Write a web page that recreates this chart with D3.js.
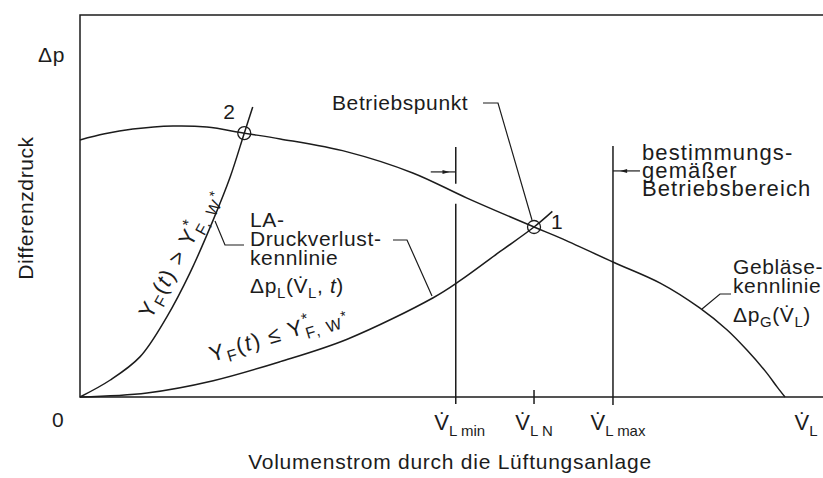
<!DOCTYPE html>
<html>
<head>
<meta charset="utf-8">
<script src="https://cdn.jsdelivr.net/npm/d3@7"></script>
<style>
  html, body { margin: 0; padding: 0; background: #fff; }
  svg { display: block; }
  text { font-family: "Liberation Sans", Arial, sans-serif; fill: #1c1c1c; }
</style>
</head>
<body>
<svg id="chart" width="823" height="478"></svg>
<script>
// Fan characteristic Δp_G(V̇_L) (relative units)
const fanFlow     = [0, 3.5, 7.5, 13.2, 18.0, 23.3, 28.4, 37.9, 47.2, 54.9, 64.4, 68.1, 75.6, 82.3, 87.9, 91.8, 94.6, 97.4, 98.9, 100];
const fanPressure = [75.6, 77.4, 78.8, 79.7, 79.4, 77.6, 75.9, 72.1, 65.9, 58.5, 50.0, 46.8, 39.7, 33.5, 26.2, 19.7, 13.8, 7.1, 2.9, 0];

// System pressure-loss characteristic, Y_F(t) <= Y*_F,W*
const lossFlow     = [0, 9.5, 18.9, 28.4, 37.9, 50.1, 53.9, 59.6, 64.4, 67.0];
const lossPressure = [0, 1.2, 4.8, 10.4, 17.0, 29.2, 34.2, 42.8, 50.0, 54.6];

// System pressure-loss characteristic, Y_F(t) > Y*_F,W*
const fouledFlow     = [0, 4.3, 8.5, 12.3, 15.6, 18.9, 21.3, 23.3, 24.5];
const fouledPressure = [0, 5.0, 11.8, 23.5, 36.5, 52.1, 64.7, 77.6, 85.3];

// Operating points (1 = design point, 2 = fouled filter)
const pointFlow     = [64.4, 23.3];
const pointPressure = [50.0, 77.6];
const pointLabels   = ["1", "2"];

// Flow marks on the abscissa
const flowMarks     = [53.3, 64.4, 75.6, 100];
const flowMarkSubs  = ["L min", "L N", "L max", "L"];
const flowMarkShift = [4, 0, 5, 21];

// Permitted operating range
const rangeMin = 53.3, rangeMax = 75.6, rangeTop = 73.5, rangeArrowAt = 66.2;

const W = 823, H = 478;
const svg = d3.select("#chart");
const ink = "#1c1c1c";
const lw = 1.5;
const FS = 21, SUB = 15;

const x = d3.scaleLinear().domain([0, 100]).range([80, 785]);
const y = d3.scaleLinear().domain([0, 100]).range([397, 57]);

const curve = d3.line()
  .x(d => x(d[0])).y(d => y(d[1]))
  .curve(d3.curveCatmullRom.alpha(0.5));

// Frame: ordinate, top rule and abscissa
const frame = svg.append("g").attr("stroke", ink).attr("stroke-width", lw).attr("fill", "none");
frame.append("path").attr("d", `M${W},15H${x(0)}V${y(0)}H${W}`);

// Characteristic curves
const curves = svg.append("g").attr("stroke", ink).attr("stroke-width", lw).attr("fill", "none");
curves.append("path").attr("d", curve(d3.zip(fanFlow, fanPressure)));
curves.append("path").attr("d", curve(d3.zip(lossFlow, lossPressure)));
curves.append("path").attr("d", curve(d3.zip(fouledFlow, fouledPressure)));

// Operating points
const pts = svg.append("g");
pointFlow.forEach((f, i) => {
  pts.append("circle")
    .attr("cx", x(f)).attr("cy", y(pointPressure[i])).attr("r", 6.5)
    .attr("fill", "none").attr("stroke", ink).attr("stroke-width", 1.3);
});
pts.append("text").attr("x", x(pointFlow[0]) + 17).attr("y", y(pointPressure[0]) + 2)
  .attr("font-size", FS).text(pointLabels[0]);
pts.append("text").attr("x", x(pointFlow[1]) - 21).attr("y", y(pointPressure[1]) - 14)
  .attr("font-size", FS).text(pointLabels[1]);

// Operating range limits
const fanAt = f => {
  const i = d3.bisectLeft(fanFlow, f);
  const t = (f - fanFlow[i - 1]) / (fanFlow[i] - fanFlow[i - 1]);
  return fanPressure[i - 1] + t * (fanPressure[i] - fanPressure[i - 1]);
};
const lim = svg.append("g").attr("stroke", ink).attr("stroke-width", lw).attr("fill", "none");
const gapY = y(fanAt(rangeMin));
lim.append("path").attr("d", `M${x(rangeMin)},${y(rangeTop)}V${gapY - 9}M${x(rangeMin)},${gapY + 11}V${y(0) + 7}`);
lim.append("path").attr("d", `M${x(rangeMax)},${y(rangeTop) - 1}V${y(0) + 8}`);
lim.append("path").attr("d", `M${x(flowMarks[1])},${y(0) - 7}V${y(0) + 7}`);

// small arrows pointing at the limits
function arrow(x0, x1, yy) {
  lim.append("path").attr("d", `M${x0},${yy}H${x1}`).attr("stroke-width", 1.2);
  const dir = Math.sign(x1 - x0);
  const mx = x0 + (x1 - x0) * 0.55;
  svg.append("path")
    .attr("d", `M${mx + dir * 5},${yy}L${mx - dir * 2},${yy - 2}L${mx - dir * 2},${yy + 2}Z`)
    .attr("fill", ink);
}
arrow(x(rangeMin) - 25, x(rangeMin), y(rangeArrowAt));
arrow(x(rangeMax) + 27, x(rangeMax), y(rangeArrowAt) - 1);

// Leader lines for annotations
const lead = svg.append("g").attr("stroke", ink).attr("stroke-width", 1.2).attr("fill", "none");
lead.append("path").attr("d", "M483,103H498L532,220");
lead.append("path").attr("d", "M244,245H225L215,221");
lead.append("path").attr("d", "M393,240H407L432,296");
lead.append("path").attr("d", "M731,294H720L702,309");

// Multi-line rich text: each line is a list of parts with optional
// baseline offset, size, italics and dx; gaps are line advances.
function block(sel, x0, lines, gaps) {
  let cur = 0;
  lines.forEach((parts, li) => {
    parts.forEach((p, pi) => {
      const off = p.off || 0;
      let dy = off - cur;
      if (pi === 0 && li > 0) dy += gaps[li - 1];
      const ts = sel.append("tspan").text(p.t).attr("dy", dy);
      if (pi === 0 && x0 != null) ts.attr("x", x0);
      if (p.dx) ts.attr("dx", p.dx);
      if (p.size) ts.attr("font-size", p.size);
      if (p.it) ts.attr("font-style", "italic");
      cur = off;
    });
  });
  return sel;
}
const rich = (sel, parts) => block(sel, null, [parts], []);

const txt = svg.append("g").attr("font-size", FS).attr("letter-spacing", 0.6);

// Axis titles
txt.append("text").attr("x", 38).attr("y", 62).text("Δp");
txt.append("text").attr("x", 52).attr("y", 427).text("0");
txt.append("text").attr("transform", "translate(33,208) rotate(-90)")
  .attr("text-anchor", "middle").text("Differenzdruck");
txt.append("text").attr("x", 450).attr("y", 469).attr("text-anchor", "middle")
  .attr("letter-spacing", 0.75)
  .text("Volumenstrom durch die Lüftungsanlage");

// Flow marks
flowMarks.forEach((f, i) => {
  rich(txt.append("text").attr("x", x(f) + flowMarkShift[i]).attr("y", 430)
    .attr("text-anchor", "middle").attr("letter-spacing", 0),
    [{ t: "V\u0307", size: 22 }, { t: flowMarkSubs[i], off: 6, size: SUB }]);
});

// Annotations
txt.append("text").attr("x", 332).attr("y", 110).text("Betriebspunkt");

block(txt.append("text").attr("x", 642).attr("y", 160).attr("font-size", 22).attr("letter-spacing", 1.1), 642,
  [[{ t: "bestimmungs-" }], [{ t: "gemäßer" }], [{ t: "Betriebsbereich" }]], [18, 18]);

block(txt.append("text").attr("x", 250).attr("y", 227), 250,
  [[{ t: "LA-" }], [{ t: "Druckverlust-" }], [{ t: "kennlinie" }],
   [{ t: "Δp" }, { t: "L", off: 5, size: SUB }, { t: "(V\u0307" }, { t: "L", off: 5, size: SUB },
    { t: ", " }, { t: "t", it: true }, { t: ")" }]],
  [19, 19, 28]);

block(txt.append("text").attr("x", 733).attr("y", 274), 733,
  [[{ t: "Gebläse-" }], [{ t: "kennlinie" }],
   [{ t: "Δp" }, { t: "G", off: 5, size: SUB }, { t: "(V\u0307" }, { t: "L", off: 5, size: SUB }, { t: ")" }]],
  [19, 29]);

// Labels along the two loss characteristics
function condition(rel) {
  return [{ t: "Y" }, { t: "F", off: 5, size: SUB + 1 }, { t: "(" }, { t: "t", it: true },
          { t: ") " + rel + " Y" }, { t: "*", off: -9, size: SUB + 1 },
          { t: "F, W", off: 6, size: SUB + 1, dx: -8 }, { t: "*", off: -1, size: 14 }];
}
rich(txt.append("text").attr("font-size", 22).attr("letter-spacing", 1.6)
  .attr("transform", "translate(151,320) rotate(-61)"), condition(">"));
rich(txt.append("text").attr("font-size", 22).attr("letter-spacing", 1.6)
  .attr("transform", "translate(212,362) rotate(-17)"), condition("≤"));
</script>
</body>
</html>
